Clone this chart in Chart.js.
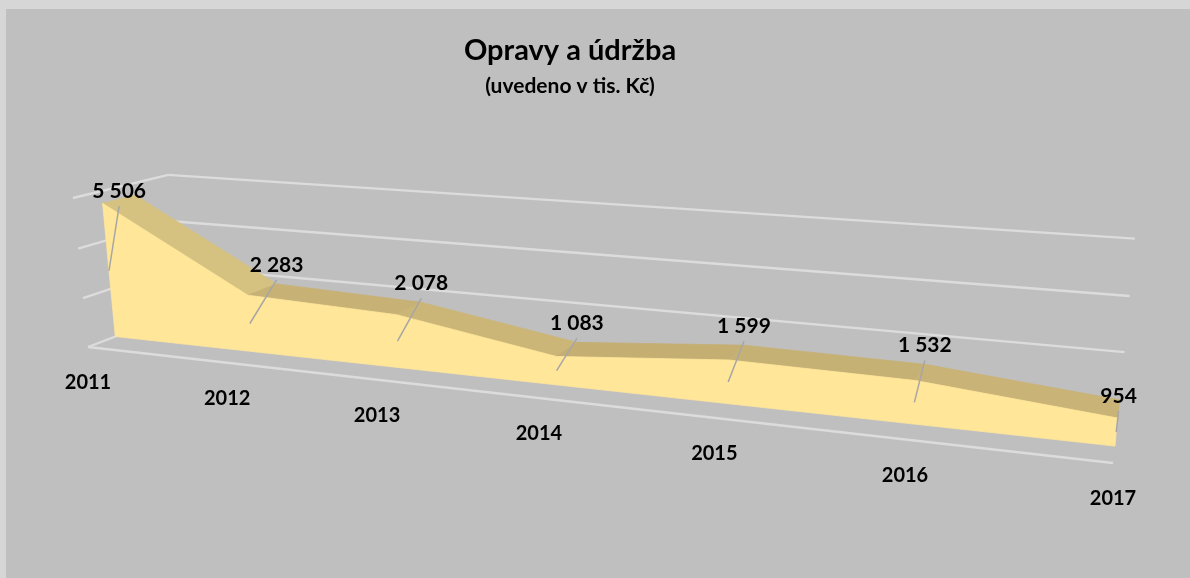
<!DOCTYPE html>
<html lang="cs">
<head>
    <meta charset="UTF-8">
    <title>Opravy a údržba</title>
    <script src="https://cdn.jsdelivr.net/npm/chart.js@4.4.0/dist/chart.umd.min.js"></script>
    <style>
        html, body { margin: 0; padding: 0; background: #bfbfbf; }
        #wrap { width: 1190px; height: 578px; }
    </style>
</head>
<body>
<div id="wrap"><canvas id="repairsChart" width="1190" height="578"></canvas></div>
<script>
    const years = ['2011', '2012', '2013', '2014', '2015', '2016', '2017'];
    const repairs = [5506, 2283, 2078, 1083, 1599, 1532, 954];
    const valueTicks = [0, 2000, 4000, 6000];

    // perspective of the 3D box: front plane corners (u0v0, u1v0, u1v1, u0v1) and the depth vanishing point
    const frontQuad = [[88, 347], [1113, 463], [1130, 276], [73, 198]];
    const depthVP = [1175, -70];
    const DEPTH = 0.092;
    const Z_FRONT = 0.28, Z_BACK = 0.62;

    const fmt = v => String(v).replace(/\B(?=(\d{3})+(?!\d))/g, ' ');

    function quadMap(q) {
        const [x0, y0] = q[0], [x1, y1] = q[1], [x2, y2] = q[2], [x3, y3] = q[3];
        const dx1 = x1 - x2, dx2 = x3 - x2, dx3 = x0 - x1 + x2 - x3;
        const dy1 = y1 - y2, dy2 = y3 - y2, dy3 = y0 - y1 + y2 - y3;
        const den = dx1 * dy2 - dx2 * dy1;
        const g = (dx3 * dy2 - dx2 * dy3) / den, h = (dx1 * dy3 - dx3 * dy1) / den;
        const a = x1 - x0 + g * x1, b = x3 - x0 + h * x3;
        const d = y1 - y0 + g * y1, e = y3 - y0 + h * y3;
        return (u, v) => {
            const w = g * u + h * v + 1;
            return [(a * u + b * v + x0) / w, (d * u + e * v + y0) / w, 1 / w];
        };
    }
    const front = quadMap(frontQuad);
    function project(u, v, z) {
        const [x, y, w] = front(u, v);
        const d = DEPTH * z * w;
        const f = d / (1 + d);
        return [x + (depthVP[0] - x) * f, y + (depthVP[1] - y) * f];
    }

    function poly(ctx, pts, fill, stroke) {
        ctx.beginPath();
        pts.forEach((p, i) => i ? ctx.lineTo(p[0], p[1]) : ctx.moveTo(p[0], p[1]));
        ctx.closePath();
        ctx.fillStyle = fill;
        ctx.fill();
        if (stroke) { ctx.strokeStyle = stroke; ctx.lineWidth = 0.8; ctx.stroke(); }
    }
    function seg(ctx, a, b) {
        ctx.beginPath();
        ctx.moveTo(a[0], a[1]);
        ctx.lineTo(b[0], b[1]);
        ctx.stroke();
    }
    function mix(c1, c2, t) {
        const p = c => [1, 3, 5].map(i => parseInt(c.substr(i, 2), 16));
        const a = p(c1), b = p(c2);
        return 'rgb(' + a.map((x, i) => Math.round(x + (b[i] - x) * t)).join(',') + ')';
    }

    const area3d = {
        id: 'area3d',
        beforeDraw(chart) {
            const ctx = chart.ctx;
            ctx.save();
            ctx.fillStyle = '#d6d6d6';
            ctx.fillRect(0, 0, chart.width, chart.height);
            ctx.fillStyle = '#bfbfbf';
            ctx.fillRect(6, 9, chart.width - 6, chart.height - 9);
            ctx.restore();
        },
        afterDraw(chart) {
            const ctx = chart.ctx;
            const xs = chart.scales.x, ys = chart.scales.y;
            const meta = chart.getDatasetMeta(0);
            const us = meta.data.map(p => (p.x - xs.left) / xs.width);
            const vs = meta.data.map(p => (ys.bottom - p.y) / ys.height);
            const vOf = val => (ys.bottom - ys.getPixelForValue(val)) / ys.height;
            const last = us.length - 1;
            ctx.save();

            // walls and floor
            ctx.strokeStyle = '#dcdcdc';
            ctx.lineWidth = 2.4;
            valueTicks.forEach(t => {
                const v = vOf(t);
                seg(ctx, project(0, v, 0), project(0, v, 1));
                if (t > 0) seg(ctx, project(0, v, 1), project(1, v, 1));
            });
            seg(ctx, project(0, 0, 0), project(1, 0, 0));

            // top ribbon
            for (let i = 0; i < last; i++) {
                const a = project(us[i], vs[i], Z_FRONT), b = project(us[i + 1], vs[i + 1], Z_FRONT);
                const slope = Math.max(0, (b[1] - a[1]) / (b[0] - a[0]));
                const col = mix('#c3ad72', '#d5c180', Math.min(1, slope / 0.6));
                poly(ctx, [a, b, project(us[i + 1], vs[i + 1], Z_BACK), project(us[i], vs[i], Z_BACK)], col, col);
            }
            // front face
            const face = us.map((u, i) => project(u, vs[i], Z_FRONT));
            face.push(project(1, 0, Z_FRONT), project(0, 0, Z_FRONT));
            poly(ctx, face, '#ffe699', '#ffe699');

            // data labels with leader lines
            ctx.font = 'bold 21px Lato';
            ctx.textAlign = 'center';
            ctx.textBaseline = 'middle';
            us.forEach((u, i) => {
                const edge = i === 0 || i === last;
                const top = project(u, vs[i], Z_BACK);
                const mid = project(u, vs[i], (Z_FRONT + Z_BACK) / 2);
                const lx = edge ? mid[0] : top[0];
                const ly = top[1] - (edge ? 4 : 19);
                ctx.strokeStyle = '#a6a6a6';
                ctx.lineWidth = 1.5;
                seg(ctx, [lx, ly + 15], project(u, vs[i] / 2, Z_FRONT));
                ctx.fillStyle = '#000';
                ctx.fillText(fmt(repairs[i]), lx, ly);
            });

            // category labels
            ctx.font = 'bold 20px Lato';
            us.forEach((u, i) => {
                const p = project(u, 0, 0);
                ctx.fillText(years[i], p[0], p[1] + 36);
            });
            ctx.restore();
        }
    };

    new Chart(document.getElementById('repairsChart'), {
        type: 'line',
        data: {
            labels: years,
            datasets: [{
                data: repairs,
                showLine: false,
                pointRadius: 0,
                pointHoverRadius: 0
            }]
        },
        options: {
            responsive: false,
            animation: false,
            events: [],
            layout: { padding: { right: 50 } },
            scales: {
                x: { display: false },
                y: { display: false, min: 0, max: 6000, ticks: { stepSize: 2000 } }
            },
            plugins: {
                legend: { display: false },
                tooltip: { enabled: false },
                title: {
                    display: true,
                    text: 'Opravy a údržba',
                    color: '#000',
                    font: { family: 'Lato', size: 29, weight: 'bold' },
                    padding: { top: 33, bottom: 3 }
                },
                subtitle: {
                    display: true,
                    text: '(uvedeno v tis. Kč)',
                    color: '#000',
                    font: { family: 'Lato', size: 21, weight: 'bold' },
                    padding: { top: 3, bottom: 10 }
                }
            }
        },
        plugins: [area3d]
    });
</script>
</body>
</html>
